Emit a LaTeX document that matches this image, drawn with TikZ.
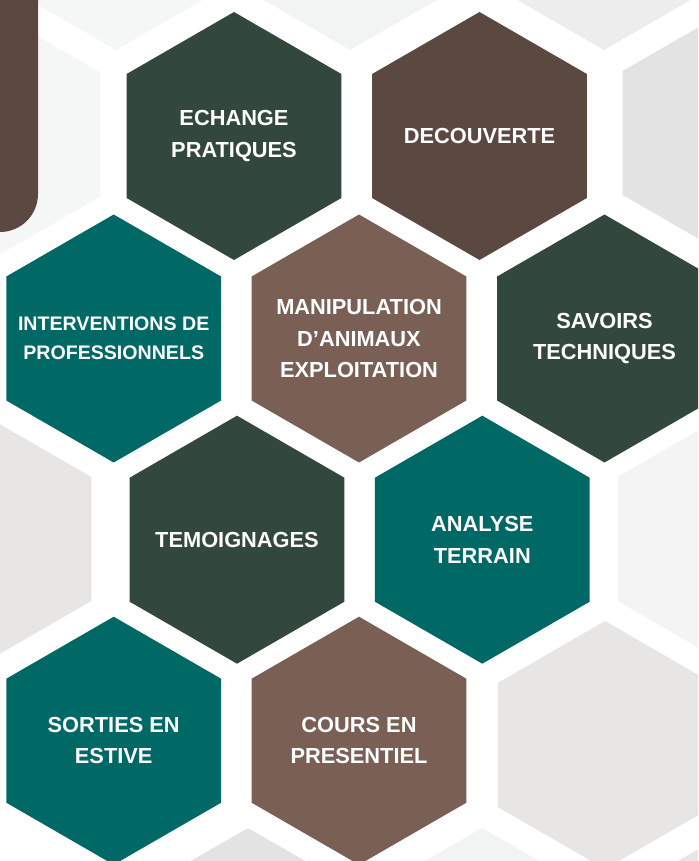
\documentclass[tikz,border=0pt]{standalone}
\usepackage{fontspec}
\setmainfont{Liberation Sans}
\usetikzlibrary{shapes.geometric}
\definecolor{vertfonce}{HTML}{33483D}
\definecolor{brunfonce}{HTML}{5A4841}
\definecolor{sarcelle}{HTML}{006865}
\definecolor{brunclair}{HTML}{7A5F55}
\definecolor{grisA}{HTML}{F5F6F6}
\definecolor{grisB}{HTML}{F2F3F3}
\definecolor{grisC}{HTML}{ECEDEC}
\definecolor{grisD}{HTML}{E2E3E2}
\definecolor{grisE}{HTML}{E7E6E4}
\definecolor{grisF}{HTML}{F4F4F4}
\begin{document}
\begin{tikzpicture}[x=1pt,y=-1pt,
    hexa/.style={regular polygon,regular polygon sides=6,shape border rotate=30,
        minimum size=248pt,inner sep=0pt,outer sep=0pt},
    texte/.style={text=white,align=center,inner sep=0pt,
        font=\bfseries\fontsize{21.8}{31.5}\selectfont}]
\useasboundingbox (0,0) rectangle (698,861);
\clip (0,0) rectangle (698,861);
% alveoles grises du fond
\node[hexa,fill=grisA] (fondA) at (116,-74) {};
\node[hexa,fill=grisB] (fondB) at (350,-74) {};
\node[hexa,fill=grisC] (fondC) at (604,-74) {};
\node[hexa,fill=grisA] (fondD) at (-7,134.5) {};
\node[hexa,fill=grisD] (fondE) at (730,133) {};
\node[hexa,fill=grisE] (fondF) at (-16,539) {};
\node[hexa,fill=grisF] (fondG) at (725,539) {};
\node[hexa,fill=grisE] (fondH) at (605,745) {};
\node[hexa,fill=grisD] (fondI) at (248,952) {};
\node[hexa,fill=grisB] (fondJ) at (482,952) {};
\node[hexa,fill=grisE] (fondK) at (735,952) {};
% bandeau brun en haut a gauche
\fill[brunfonce,rounded corners=38pt] (-80,-80) rectangle (38,232);
% rangee 1
\node[hexa,fill=vertfonce] (echange) at (234,136) {};
\node[texte] (echangeT) at (echange) {ECHANGE\\PRATIQUES};
\node[hexa,fill=brunfonce] (decouverte) at (479.5,136) {};
\node[texte] (decouverteT) at (decouverte) {DECOUVERTE};
% rangee 2
\node[hexa,fill=sarcelle] (interventions) at (113.7,338.5) {};
\node[texte,font=\bfseries\fontsize{19.6}{28.7}\selectfont] (interventionsT) at (interventions) {INTERVENTIONS DE\\PROFESSIONNELS};
\node[hexa,fill=brunclair] (manipulation) at (359,338.5) {};
\node[texte] (manipulationT) at (manipulation) {MANIPULATION\\D’ANIMAUX\\EXPLOITATION};
\node[hexa,fill=vertfonce] (savoirs) at (604.5,338.5) {};
\node[texte] (savoirsT) at (savoirs) {SAVOIRS\\TECHNIQUES};
% rangee 3
\node[hexa,fill=vertfonce] (temoignages) at (237,539.7) {};
\node[texte] (temoignagesT) at (temoignages) {TEMOIGNAGES};
\node[hexa,fill=sarcelle] (analyse) at (482.3,539.7) {};
\node[texte] (analyseT) at (analyse) {ANALYSE\\TERRAIN};
% rangee 4
\node[hexa,fill=sarcelle] (sorties) at (113.7,740.7) {};
\node[texte] (sortiesT) at (sorties) {SORTIES EN\\ESTIVE};
\node[hexa,fill=brunclair] (cours) at (359,740.7) {};
\node[texte] (coursT) at (cours) {COURS EN\\PRESENTIEL};
\end{tikzpicture}
\end{document}
